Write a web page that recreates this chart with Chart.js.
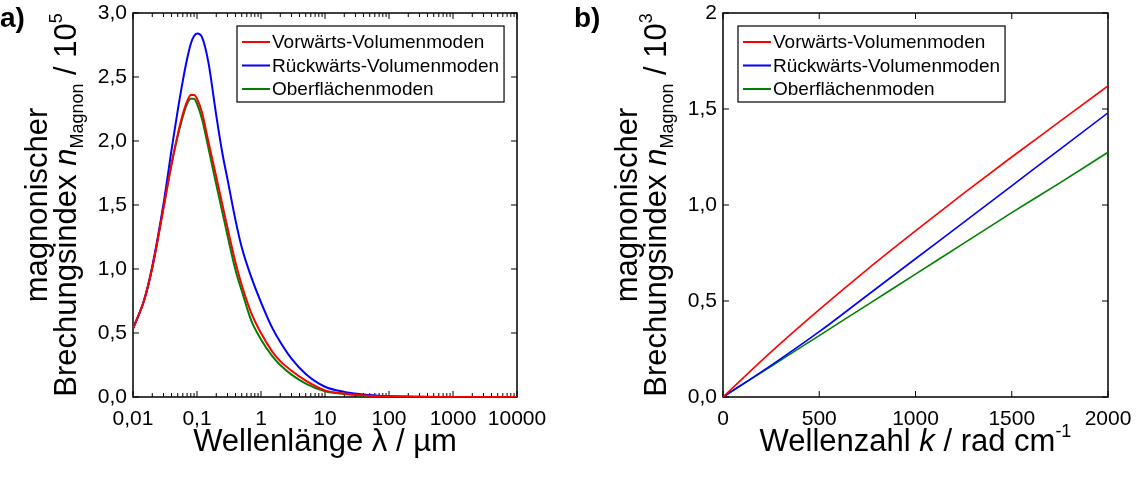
<!DOCTYPE html>
<html lang="de">
<head>
<meta charset="utf-8">
<title>Magnonischer Brechungsindex</title>
<script src="https://cdn.jsdelivr.net/npm/chart.js@4.4.1/dist/chart.umd.min.js"></script>
<style>
  html, body { margin: 0; padding: 0; background: #fff; }
  .panel { position: absolute; top: 0; height: 479px; }
  #panelA { left: 0; width: 569px; }
  #panelB { left: 569px; width: 569px; }
</style>
</head>
<body>
<div class="panel" id="panelA"><canvas id="chartA"></canvas></div>
<div class="panel" id="panelB"><canvas id="chartB"></canvas></div>
<script>
// ---- data: panel a) refractive index vs wavelength (µm), values in 1e5
const lambdaValues = [0.01, 0.015, 0.02, 0.03, 0.04, 0.05, 0.06, 0.07, 0.08, 0.09, 0.1, 0.12, 0.15, 0.2, 0.25, 0.3, 0.4, 0.5, 0.7, 1, 1.5, 2, 3, 5, 10, 20, 50, 100, 1000, 10000];
const forwardBulkA = [0.535, 0.76, 1.01, 1.48, 1.82, 2.05, 2.21, 2.31, 2.36, 2.36, 2.33, 2.22, 2.00, 1.72, 1.50, 1.32, 1.05, 0.875, 0.66, 0.50, 0.355, 0.28, 0.205, 0.128, 0.052, 0.028, 0.01, 0.005, 0.0005, 0.0001];
const backwardBulkA = [0.535, 0.76, 1.02, 1.51, 1.93, 2.24, 2.47, 2.64, 2.76, 2.82, 2.84, 2.81, 2.62, 2.20, 1.90, 1.70, 1.38, 1.17, 0.94, 0.74, 0.54, 0.43, 0.30, 0.18, 0.08, 0.04, 0.015, 0.006, 0.0006, 0.0001];
const surfaceA = [0.535, 0.76, 1.01, 1.48, 1.82, 2.04, 2.19, 2.29, 2.33, 2.33, 2.29, 2.17, 1.95, 1.66, 1.44, 1.26, 0.99, 0.83, 0.60, 0.45, 0.32, 0.25, 0.175, 0.105, 0.045, 0.024, 0.009, 0.004, 0.0004, 0.0001];
const lambdaTicks = [0.01, 0.1, 1, 10, 100, 1000, 10000];
const lambdaTickLabels = ['0,01', '0,1', '1', '10', '100', '1000', '10000'];
const nTicksA = [0, 0.5, 1, 1.5, 2, 2.5, 3];
const nTickLabelsA = ['0,0', '0,5', '1,0', '1,5', '2,0', '2,5', '3,0'];

// ---- data: panel b) refractive index vs wave number (rad/cm), values in 1e3
const kValues = [0, 250, 500, 750, 1000, 1250, 1500, 1750, 2000];
const forwardBulkB = [0, 0.235, 0.455, 0.665, 0.865, 1.06, 1.25, 1.435, 1.62];
const backwardBulkB = [0, 0.165, 0.34, 0.53, 0.72, 0.91, 1.10, 1.29, 1.48];
const surfaceB = [0, 0.16, 0.32, 0.48, 0.64, 0.80, 0.96, 1.115, 1.275];
const kTicks = [0, 500, 1000, 1500, 2000];
const kTickLabels = ['0', '500', '1000', '1500', '2000'];
const nTicksB = [0, 0.5, 1, 1.5, 2];
const nTickLabelsB = ['0,0', '0,5', '1,0', '1,5', '2'];

const seriesNames = ['Vorwärts-Volumenmoden', 'Rückwärts-Volumenmoden', 'Oberflächenmoden'];
const seriesColors = ['#ff0000', '#0000ff', '#008000'];

const FONT = '"Liberation Sans", Arial, Helvetica, sans-serif';

// draws a row of text pieces: [text, kind] with kind '', 'i', 'sub', 'sup', 'b'
function drawRich(ctx, parts, x, y, size) {
  const fontFor = kind => {
    if (kind === 'sub' || kind === 'sup') return `${Math.round(size * 0.58)}px ${FONT}`;
    if (kind === 'i') return `italic ${size}px ${FONT}`;
    if (kind === 'b') return `bold ${size}px ${FONT}`;
    return `${size}px ${FONT}`;
  };
  let total = 0;
  parts.forEach(p => { ctx.font = fontFor(p[1]); total += ctx.measureText(p[0]).width; });
  let cx = x - total / 2;
  ctx.textAlign = 'left';
  ctx.textBaseline = 'alphabetic';
  parts.forEach(p => {
    ctx.font = fontFor(p[1]);
    let dy = 0;
    if (p[1] === 'sub') dy = size * 0.24;
    if (p[1] === 'sup') dy = -size * 0.45;
    ctx.fillText(p[0], cx, y + dy);
    cx += ctx.measureText(p[0]).width;
  });
}

// frame, inward ticks, axis titles, legend and panel letter
const decorPlugin = {
  id: 'decor',
  beforeDatasetsDraw(chart, args, opts) {
    const { ctx, chartArea: a, scales: { x, y } } = chart;
    ctx.save();
    ctx.strokeStyle = '#000';
    ctx.lineWidth = 1;
    ctx.beginPath();
    const xTick = (px, len) => {
      ctx.moveTo(px, a.bottom); ctx.lineTo(px, a.bottom - len);
      ctx.moveTo(px, a.top); ctx.lineTo(px, a.top + len);
    };
    x.ticks.forEach(t => xTick(x.getPixelForValue(t.value), 6));
    (opts.minorX || []).forEach(v => xTick(x.getPixelForValue(v), 4));
    y.ticks.forEach(t => {
      const py = y.getPixelForValue(t.value);
      ctx.moveTo(a.left, py); ctx.lineTo(a.left + 6, py);
      ctx.moveTo(a.right, py); ctx.lineTo(a.right - 6, py);
    });
    ctx.stroke();
    ctx.lineWidth = 1.5;
    ctx.strokeRect(a.left, a.top, a.right - a.left, a.bottom - a.top);
    ctx.restore();
  },
  afterDraw(chart, args, opts) {
    const { ctx, chartArea: a } = chart;
    ctx.save();
    ctx.fillStyle = '#000';

    // x title
    drawRich(ctx, opts.xTitle, (a.left + a.right) / 2, a.bottom + 54, 31);

    // y title, two lines rotated
    ctx.save();
    ctx.translate(a.left - 86, (a.top + a.bottom) / 2);
    ctx.rotate(-Math.PI / 2);
    drawRich(ctx, opts.yTitle1, 0, 0, 31);
    drawRich(ctx, opts.yTitle2, 0, 29, 31);
    ctx.restore();

    // panel letter
    ctx.font = `bold 28px ${FONT}`;
    ctx.textAlign = 'left';
    ctx.textBaseline = 'alphabetic';
    ctx.fillText(opts.letter, opts.letterX, 27);

    // legend box
    const fs = 19;
    ctx.font = `${fs}px ${FONT}`;
    const labels = chart.data.datasets.map(d => d.label);
    const textW = Math.max(...labels.map(l => ctx.measureText(l).width));
    const bx = a.left + opts.legendLeft, by = a.top + 13;
    const bw = 35 + textW + 5, bh = 76;
    ctx.fillStyle = '#fff';
    ctx.fillRect(bx, by, bw, bh);
    ctx.strokeStyle = '#000';
    ctx.lineWidth = 1.2;
    ctx.strokeRect(bx, by, bw, bh);
    ctx.textBaseline = 'middle';
    chart.data.datasets.forEach((d, i) => {
      const ry = by + 16 + i * 23.5;
      ctx.strokeStyle = d.borderColor;
      ctx.lineWidth = 2;
      ctx.beginPath();
      ctx.moveTo(bx + 5, ry); ctx.lineTo(bx + 33, ry);
      ctx.stroke();
      ctx.fillStyle = '#000';
      ctx.fillText(d.label, bx + 35, ry + 1);
    });
    ctx.restore();
  }
};

function makeDataset(xs, ys, i, width) {
  return {
    label: seriesNames[i],
    data: xs.map((xv, j) => ({ x: xv, y: ys[j] })),
    borderColor: seriesColors[i],
    backgroundColor: seriesColors[i],
    borderWidth: width,
    pointRadius: 0,
    cubicInterpolationMode: 'monotone',
    fill: false
  };
}

function axisX(type, min, max, ticks, labels) {
  return {
    type, min, max,
    grid: { display: false, drawTicks: false },
    border: { display: false },
    ticks: {
      color: '#000', font: { family: FONT, size: 21 }, padding: 10,
      autoSkip: false, maxRotation: 0,
      callback: (v, i) => labels[i]
    },
    afterBuildTicks: s => { s.ticks = ticks.map(v => ({ value: v })); },
    afterFit: s => { s.height = 82; s.paddingLeft = 0; s.paddingRight = 0; }
  };
}

function axisY(max, ticks, labels, width) {
  return {
    type: 'linear', min: 0, max,
    grid: { display: false, drawTicks: false },
    border: { display: false },
    ticks: {
      color: '#000', font: { family: FONT, size: 21 }, padding: 6,
      callback: (v, i) => labels[i]
    },
    afterBuildTicks: s => { s.ticks = ticks.map(v => ({ value: v })); },
    afterFit: s => { s.width = width; s.paddingTop = 0; s.paddingBottom = 0; }
  };
}

const minorLog = [];
for (let e = -2; e < 4; e++) {
  for (let m = 2; m <= 9; m++) minorLog.push(m * Math.pow(10, e));
}

new Chart(document.getElementById('chartA'), {
  type: 'line',
  data: {
    datasets: [
      makeDataset(lambdaValues, forwardBulkA, 0, 2),
      makeDataset(lambdaValues, backwardBulkA, 1, 2),
      makeDataset(lambdaValues, surfaceA, 2, 2)
    ]
  },
  options: {
    responsive: true,
    maintainAspectRatio: false,
    animation: false,
    layout: { padding: { left: 0, right: 52, top: 13, bottom: 0 } },
    scales: {
      x: axisX('logarithmic', 0.01, 10000, lambdaTicks, lambdaTickLabels),
      y: axisY(3, nTicksA, nTickLabelsA, 133)
    },
    plugins: {
      legend: { display: false },
      tooltip: { enabled: false },
      decor: {
        minorX: minorLog,
        letter: 'a)', letterX: 0, legendLeft: 104,
        xTitle: [['Wellenlänge λ / µm', '']],
        yTitle1: [['magnonischer', '']],
        yTitle2: [['Brechungsindex ', ''], ['n', 'i'], ['Magnon', 'sub'], [' / 10', ''], ['5', 'sup']]
      }
    }
  },
  plugins: [decorPlugin]
});

new Chart(document.getElementById('chartB'), {
  type: 'line',
  data: {
    datasets: [
      makeDataset(kValues, forwardBulkB, 0, 1.6),
      makeDataset(kValues, backwardBulkB, 1, 1.6),
      makeDataset(kValues, surfaceB, 2, 1.6)
    ]
  },
  options: {
    responsive: true,
    maintainAspectRatio: false,
    animation: false,
    layout: { padding: { left: 0, right: 30, top: 13, bottom: 0 } },
    scales: {
      x: axisX('linear', 0, 2000, kTicks, kTickLabels),
      y: axisY(2, nTicksB, nTickLabelsB, 154)
    },
    plugins: {
      legend: { display: false },
      tooltip: { enabled: false },
      decor: {
        minorX: [],
        letter: 'b)', letterX: 5, legendLeft: 15,
        xTitle: [['Wellenzahl ', ''], ['k', 'i'], [' / rad cm', ''], ['-1', 'sup']],
        yTitle1: [['magnonischer', '']],
        yTitle2: [['Brechungsindex ', ''], ['n', 'i'], ['Magnon', 'sub'], [' / 10', ''], ['3', 'sup']]
      }
    }
  },
  plugins: [decorPlugin]
});
</script>
</body>
</html>
